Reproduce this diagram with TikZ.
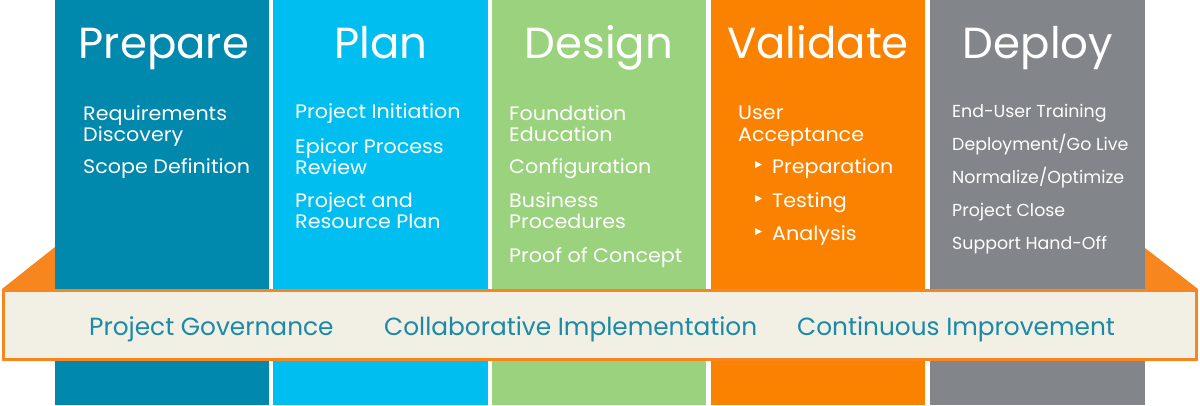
\documentclass[tikz,border=0pt]{standalone}
\usepackage{fontspec}
\setmainfont{Poppins}
\newfontfamily\itemfont[FakeStretch=1.06]{Poppins}
\definecolor{cPrep}{HTML}{0088AD}
\definecolor{cPlan}{HTML}{00BFF0}
\definecolor{cDes}{HTML}{9BD27D}
\definecolor{cVal}{HTML}{FA8200}
\definecolor{cDep}{HTML}{828589}
\definecolor{cBand}{HTML}{F2EFE4}
\definecolor{cOr}{HTML}{F7861E}
\definecolor{cBandTxt}{HTML}{1B8AA6}
\begin{document}
\begin{tikzpicture}[x=1pt,y=-1pt,
  ttl/.style={text=white,anchor=base,inner sep=0pt,font=\fontsize{43.5}{44}\selectfont},
  itm/.style={text=white,anchor=base west,inner sep=0pt,font=\itemfont\fontsize{19.5}{20}\selectfont},
  dep/.style={text=white,anchor=base west,inner sep=0pt,font=\fontsize{17.4}{18}\selectfont},
  bnd/.style={text=cBandTxt,anchor=base west,inner sep=0pt,font=\fontsize{24.8}{26}\selectfont},
  bul/.style={fill=white,draw=none}]
\useasboundingbox (0,0) rectangle (1200,405);
% orange wings
\fill[cOr] (2,289) -- (55,247) -- (55,289) -- cycle;
\fill[cOr] (1145,248) -- (1198,289) -- (1145,289) -- cycle;
% columns
\fill[cPrep] (55,0) rectangle (269,405);
\fill[cPlan] (273,0) rectangle (488,405);
\fill[cDes] (492,0) rectangle (706,405);
\fill[cVal] (711,0) rectangle (925,405);
\fill[cDep] (930,0) rectangle (1145,405);
% titles
\node[ttl] (tPrep) at (164,58) {Prepare};
\node[ttl] (tPlan) at (381,58) {Plan};
\node[ttl] (tDes) at (599,58) {Design};
\node[ttl] (tVal) at (818,58) {Validate};
\node[ttl] (tDep) at (1038,58) {Deploy};
% Prepare items
\node[itm] (p1) at (83,120) {Requirements};
\node[itm] (p2) at (83,141) {Discovery};
\node[itm] (p3) at (83,173) {Scope Definition};
% Plan items
\node[itm] (l1) at (295,118) {Project Initiation};
\node[itm] (l2) at (295,153) {Epicor Process};
\node[itm] (l3) at (295,174) {Review};
\node[itm] (l4) at (295,207) {Project and};
\node[itm] (l5) at (295,228) {Resource Plan};
% Design items
\node[itm] (d1) at (509,120) {Foundation};
\node[itm] (d2) at (509,141) {Education};
\node[itm] (d3) at (509,173) {Configuration};
\node[itm] (d4) at (509,207) {Business};
\node[itm] (d5) at (509,228) {Procedures};
\node[itm] (d6) at (509,262) {Proof of Concept};
% Validate items
\node[itm] (v1) at (738,119) {User};
\node[itm] (v2) at (738,141) {Acceptance};
\node[itm] (v3) at (772,173) {Preparation};
\node[itm] (v4) at (772,207) {Testing};
\node[itm] (v5) at (772,240) {Analysis};
\fill[bul] (755,161) -- (762,164.5) -- (755,168) -- cycle;
\fill[bul] (755,195) -- (762,198.5) -- (755,202) -- cycle;
\fill[bul] (755,228) -- (762,231.5) -- (755,235) -- cycle;
% Deploy items
\node[dep] (e1) at (952,117) {End-User Training};
\node[dep] (e2) at (952,150) {Deployment/Go Live};
\node[dep] (e3) at (952,183) {Normalize/Optimize};
\node[dep] (e4) at (952,216) {Project Close};
\node[dep] (e5) at (952,249) {Support Hand-Off};
% band
\draw[cOr,line width=3pt,fill=cBand] (3.5,290.5) rectangle (1196.5,359.5);
\node[bnd] (b1) at (89,335) {Project Governance};
\node[bnd] (b2) at (384,335) {Collaborative Implementation};
\node[bnd] (b3) at (797,335) {Continuous Improvement};
\end{tikzpicture}
\end{document}
